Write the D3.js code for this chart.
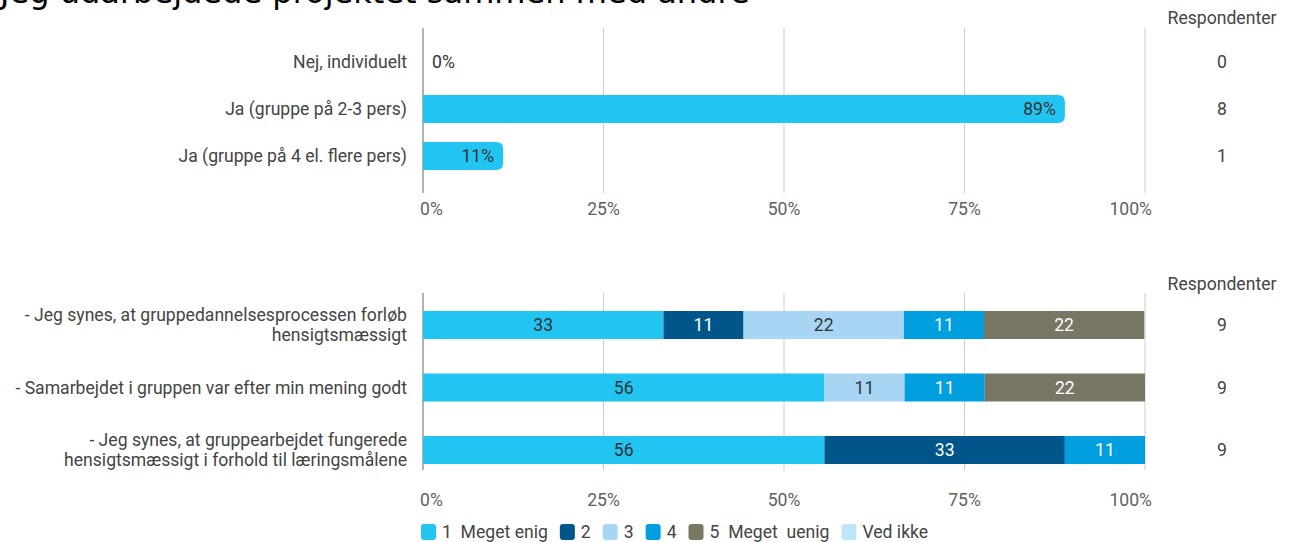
<!DOCTYPE html>
<html><head><meta charset="utf-8">
<script src="https://cdn.jsdelivr.net/npm/d3@7"></script>
<style>body{margin:0;background:#fff} svg{display:block}</style>
</head><body>
<svg id="c" width="1290" height="542"></svg>
<script>
const title = "Jeg udarbejdede projektet sammen med andre";
const respHeader = "Respondenter";
const topCategories = ["Nej, individuelt", "Ja (gruppe på 2-3 pers)", "Ja (gruppe på 4 el. flere pers)"];
const topValues = [0, 88.9, 11.1];
const topRespondents = [0, 8, 1];
const bottomCategories = [
  ["- Jeg synes, at gruppedannelsesprocessen forløb", "hensigtsmæssigt"],
  ["- Samarbejdet i gruppen var efter min mening godt"],
  ["- Jeg synes, at gruppearbejdet fungerede", "hensigtsmæssigt i forhold til læringsmålene"]
];
const seriesNames = ["1  Meget enig", "2", "3", "4", "5  Meget  uenig", "Ved ikke"];
const s1 = [33.3, 55.6, 55.6];
const s2 = [11.1, 0, 33.3];
const s3 = [22.2, 11.1, 0];
const s4 = [11.1, 11.1, 11.1];
const s5 = [22.2, 22.2, 0];
const s6 = [0, 0, 0];
const bottomRespondents = [9, 9, 9];
const tickValues = [0, 25, 50, 75, 100];
const tickLabels = ["0%", "25%", "50%", "75%", "100%"];

const colors = ["#22c4f2", "#00568a", "#a9d5f5", "#009fe0", "#7a7664", "#bee6fa"];
const labelColors = ["#333", "#fff", "#333", "#fff", "#fff", "#333"];
const FONT = "Roboto, sans-serif";
const FS = 17.6;
const svg = d3.select("#c");

// Title
const t = svg.append("text").attr("x", 0).attr("y", 3)
  .attr("font-family", "DejaVu Sans").attr("font-size", 30).attr("fill", "#000").text(title);
const w = t.node().getComputedTextLength();
t.attr("font-size", 30 * 750 / w);

const x = d3.scaleLinear().domain([0, 100]).range([423, 1145]);
const respX = 1222;

function drawAxis(g, y0, y1, labelY) {
  g.selectAll("line.grid").data(tickValues.slice(1)).join("line")
    .attr("x1", d => x(d)).attr("x2", d => x(d)).attr("y1", y0).attr("y2", y1)
    .attr("stroke", "#cccccc").attr("stroke-width", 1);
  g.append("line").attr("x1", x(0)).attr("x2", x(0)).attr("y1", y0).attr("y2", y1)
    .attr("stroke", "#999").attr("stroke-width", 1.5);
  g.selectAll("text.tick").data(tickValues).join("text")
    .attr("x", (d, i) => i === 0 ? x(d) - 3 : (i === tickValues.length - 1 ? x(d) + 7 : x(d)))
    .attr("y", labelY)
    .attr("text-anchor", (d, i) => i === 0 ? "start" : (i === tickValues.length - 1 ? "end" : "middle"))
    .attr("dominant-baseline", "central")
    .attr("font-family", FONT).attr("font-size", FS).attr("fill", "#616161")
    .text((d, i) => tickLabels[i]);
}

// ---- Top chart ----
const gTop = svg.append("g");
const yTop = d3.scaleBand().domain(topCategories).range([38.5, 179.5]).paddingInner(0.4).paddingOuter(0.2);
drawAxis(gTop, 28, 193, 209);

function roundRight(x0, x1, y0, h, r) {
  r = Math.min(r, (x1 - x0), h / 2);
  return `M${x0},${y0}H${x1 - r}Q${x1},${y0} ${x1},${y0 + r}V${y0 + h - r}Q${x1},${y0 + h} ${x1 - r},${y0 + h}H${x0}Z`;
}
topCategories.forEach((c, i) => {
  const v = topValues[i];
  const yc = yTop(c) + yTop.bandwidth() / 2;
  if (v > 0) {
    gTop.append("path").attr("d", roundRight(x(0), x(v), yTop(c), yTop.bandwidth(), 7)).attr("fill", colors[0]);
    gTop.append("text").attr("x", x(v) - 9).attr("y", yc).attr("text-anchor", "end")
      .attr("dominant-baseline", "central").attr("font-family", FONT).attr("font-size", FS).attr("fill", "#333")
      .text(Math.round(v) + "%");
  } else {
    gTop.append("text").attr("x", x(0) + 9).attr("y", yc).attr("text-anchor", "start")
      .attr("dominant-baseline", "central").attr("font-family", FONT).attr("font-size", FS).attr("fill", "#333")
      .text(Math.round(v) + "%");
  }
  gTop.append("text").attr("x", 407).attr("y", yc).attr("text-anchor", "end")
    .attr("dominant-baseline", "central").attr("font-family", FONT).attr("font-size", FS).attr("fill", "#444").text(c);
  gTop.append("text").attr("x", respX).attr("y", yc).attr("text-anchor", "middle")
    .attr("dominant-baseline", "central").attr("font-family", FONT).attr("font-size", FS).attr("fill", "#444")
    .text(topRespondents[i]);
});
gTop.append("text").attr("x", respX).attr("y", 18).attr("text-anchor", "middle")
  .attr("dominant-baseline", "central").attr("font-family", FONT).attr("font-size", FS).attr("fill", "#444").text(respHeader);

// ---- Bottom chart ----
const gBot = svg.append("g");
const idx = [0, 1, 2];
const yBot = d3.scaleBand().domain(idx).range([293.75, 481.25]).paddingInner(0.552).paddingOuter(0.276);
drawAxis(gBot, 293, 470, 500);

const series = [s1, s2, s3, s4, s5, s6];
const table = idx.map(i => {
  const o = { i };
  series.forEach((s, k) => o["s" + k] = s[i]);
  return o;
});
const stack = d3.stack().keys(series.map((s, k) => "s" + k))(table);
stack.forEach((layer, k) => {
  layer.forEach(seg => {
    const v = seg[1] - seg[0];
    if (v <= 0) return;
    const i = seg.data.i;
    gBot.append("rect").attr("x", x(seg[0])).attr("width", x(seg[1]) - x(seg[0]))
      .attr("y", yBot(i)).attr("height", yBot.bandwidth()).attr("fill", colors[k]);
    gBot.append("text").attr("x", (x(seg[0]) + x(seg[1])) / 2).attr("y", yBot(i) + yBot.bandwidth() / 2)
      .attr("text-anchor", "middle").attr("dominant-baseline", "central")
      .attr("font-family", FONT).attr("font-size", FS).attr("fill", labelColors[k]).text(Math.round(v));
  });
});
idx.forEach(i => {
  const yc = yBot(i) + yBot.bandwidth() / 2;
  const lines = bottomCategories[i];
  const lh = 20;
  lines.forEach((ln, j) => {
    gBot.append("text").attr("x", 407).attr("y", yc + (j - (lines.length - 1) / 2) * lh)
      .attr("text-anchor", "end").attr("dominant-baseline", "central")
      .attr("font-family", FONT).attr("font-size", FS).attr("fill", "#444").text(ln);
  });
  gBot.append("text").attr("x", respX).attr("y", yc).attr("text-anchor", "middle")
    .attr("dominant-baseline", "central").attr("font-family", FONT).attr("font-size", FS).attr("fill", "#444")
    .text(bottomRespondents[i]);
});
gBot.append("text").attr("x", respX).attr("y", 284).attr("text-anchor", "middle")
  .attr("dominant-baseline", "central").attr("font-family", FONT).attr("font-size", FS).attr("fill", "#444").text(respHeader);

// ---- Legend ----
const gLeg = svg.append("g");
let lx = 421;
const ly = 532;
seriesNames.forEach((name, k) => {
  gLeg.append("rect").attr("x", lx).attr("y", ly - 8).attr("width", 15).attr("height", 16)
    .attr("rx", 3).attr("fill", colors[k]);
  const tx = gLeg.append("text").attr("x", lx + 21).attr("y", ly).attr("dominant-baseline", "central")
    .attr("font-family", FONT).attr("font-size", FS).attr("fill", "#444")
    .style("white-space", "pre").attr("xml:space", "preserve").text(name);
  lx += 21 + tx.node().getComputedTextLength() + 12;
});
</script>
</body></html>
